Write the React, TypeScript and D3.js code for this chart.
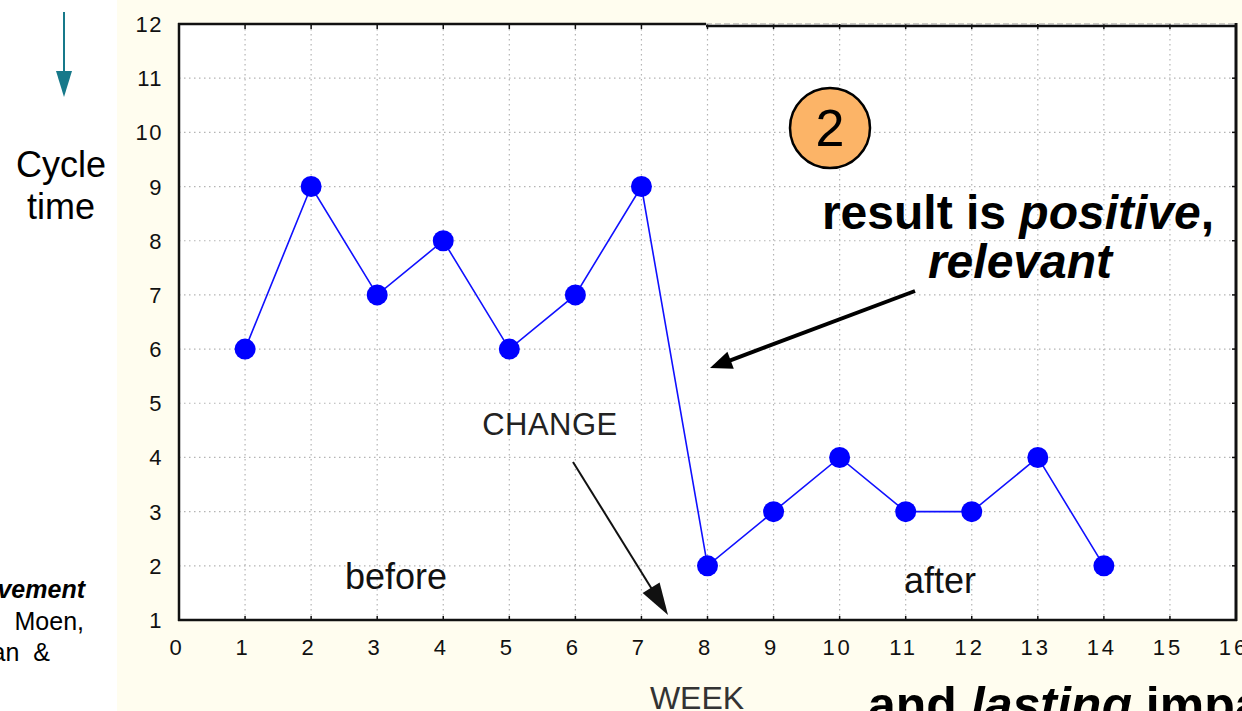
import React from "react";
import * as d3 from "d3";

const weeks = [1, 2, 3, 4, 5, 6, 7, 8, 9, 10, 11, 12, 13, 14];
const cycleTime = [6, 9, 7, 8, 6, 7, 9, 2, 3, 4, 3, 3, 4, 2];
const xTicks = d3.range(0, 17);
const yTicks = d3.range(1, 13);

const W = 1242;
const H = 711;
const FONT = "'Liberation Sans', Arial, sans-serif";

function arrowHead(x1: number, y1: number, x2: number, y2: number, len: number, half: number) {
  const a = Math.atan2(y2 - y1, x2 - x1);
  const bx = x2 - len * Math.cos(a);
  const by = y2 - len * Math.sin(a);
  const px = -Math.sin(a) * half;
  const py = Math.cos(a) * half;
  return {
    pts: `${x2},${y2} ${bx + px},${by + py} ${bx - px},${by - py}`,
    bx: x2 - len * 0.7 * Math.cos(a),
    by: y2 - len * 0.7 * Math.sin(a),
  };
}

export default function App() {
  const x = d3.scaleLinear().domain([0, 16]).range([179, 1236]);
  const y = d3.scaleLinear().domain([1, 12]).range([620, 24]);
  const line = d3
    .line<number>()
    .x((_, i) => x(weeks[i]))
    .y((d) => y(d));

  const a1 = arrowHead(915, 291, 710, 368, 22, 9);
  const a2 = arrowHead(573, 462, 668, 615, 32, 10);
  const tealHead = arrowHead(64, 12, 64, 97, 26, 8);

  return (
    <svg
      width={W}
      height={H}
      style={{ position: "absolute", left: 0, top: 0, background: "#ffffff" }}
      fontFamily={FONT}
    >
      <rect x={117} y={0} width={W - 117} height={H} fill="#fffdef" />
      <rect x={x(0)} y={y(12)} width={x(16) - x(0)} height={y(1) - y(12)} fill="#ffffff" />

      {/* grid */}
      {xTicks.slice(1, -1).map((t) => (
        <line
          key={"gx" + t}
          x1={x(t)}
          x2={x(t)}
          y1={y(12)}
          y2={y(1)}
          stroke="#b4b4b4"
          strokeWidth={1.2}
          strokeDasharray="1.5 3.5"
        />
      ))}
      {yTicks.slice(1, -1).map((t) => (
        <line
          key={"gy" + t}
          x1={x(0)}
          x2={x(16)}
          y1={y(t)}
          y2={y(t)}
          stroke="#b4b4b4"
          strokeWidth={1.2}
          strokeDasharray="1.5 3.5"
        />
      ))}

      {/* inner ticks */}
      {xTicks.slice(1, -1).map((t) => (
        <g key={"tx" + t}>
          <line x1={x(t)} x2={x(t)} y1={y(1)} y2={y(1) - 4} stroke="#111" strokeWidth={1.5} />
          <line x1={x(t)} x2={x(t)} y1={y(12)} y2={y(12) + 5} stroke="#111" strokeWidth={1.5} />
        </g>
      ))}
      {yTicks.slice(1, -1).map((t) => (
        <line key={"ty" + t} x1={x(16)} x2={x(16) - 4} y1={y(t)} y2={y(t)} stroke="#111" strokeWidth={1.5} />
      ))}

      {/* frame */}
      <line x1={x(0)} x2={x(0)} y1={y(12) - 1} y2={y(1) + 1} stroke="#111" strokeWidth={2.5} />
      <line x1={x(0) - 1} x2={x(16) + 1} y1={y(1)} y2={y(1)} stroke="#111" strokeWidth={2.5} />
      <line x1={x(16)} x2={x(16)} y1={y(12) - 1} y2={y(1) + 1} stroke="#111" strokeWidth={3} />
      <line x1={x(0) - 1} x2={706} y1={y(12)} y2={y(12)} stroke="#111" strokeWidth={2.5} />
      <line x1={706} x2={x(16)} y1={y(12) + 2} y2={y(12) + 2} stroke="#111" strokeWidth={2.5} />
      <line x1={706} x2={x(16)} y1={y(12)} y2={y(12)} stroke="#999" strokeWidth={1} strokeDasharray="6 3" />

      {/* tick labels */}
      {yTicks.map((t) => (
        <text
          key={"ly" + t}
          x={163}
          y={y(t) + 8}
          textAnchor="end"
          fontSize={22}
          fill="#111"
          letterSpacing={1.5}
        >
          {t}
        </text>
      ))}
      {xTicks.map((t) => (
        <text
          key={"lx" + t}
          x={x(t) - 2}
          y={655}
          textAnchor="middle"
          fontSize={22}
          fill="#111"
          letterSpacing={3}
        >
          {t}
        </text>
      ))}

      {/* data */}
      <path d={line(cycleTime) ?? ""} fill="none" stroke="#1010ff" strokeWidth={1.6} />
      {cycleTime.map((v, i) => (
        <circle key={"p" + i} cx={x(weeks[i])} cy={y(v)} r={10.5} fill="#0000ff" />
      ))}

      {/* annotations */}
      <text x={550} y={435} textAnchor="middle" fontSize={31} fill="#222" letterSpacing={0.5}>
        CHANGE
      </text>
      <line x1={573} y1={462} x2={a2.bx} y2={a2.by} stroke="#111" strokeWidth={2} />
      <polygon points={a2.pts} fill="#111" />

      <text x={396} y={589} textAnchor="middle" fontSize={36} fill="#111">
        before
      </text>
      <text x={940} y={593} textAnchor="middle" fontSize={36} fill="#111">
        after
      </text>

      <text x={1018} y={229} textAnchor="middle" fontSize={48} fontWeight="bold" fill="#000">
        result is <tspan fontStyle="italic">positive</tspan>,
      </text>
      <text x={1020} y={278} textAnchor="middle" fontSize={48} fontWeight="bold" fontStyle="italic" fill="#000">
        relevant
      </text>
      <line x1={915} y1={291} x2={a1.bx} y2={a1.by} stroke="#000" strokeWidth={4} />
      <polygon points={a1.pts} fill="#000" />

      <circle cx={830} cy={128} r={40} fill="#fcb467" stroke="#000" strokeWidth={2.5} />
      <text x={830} y={146} textAnchor="middle" fontSize={52} fill="#000">
        2
      </text>

      <text x={697} y={709} textAnchor="middle" fontSize={32} fill="#333">
        WEEK
      </text>
      <text x={868} y={722} fontSize={50} fontWeight="bold" fill="#000">
        and <tspan fontStyle="italic">lasting</tspan> impact
      </text>

      {/* left side */}
      <line x1={64} y1={12} x2={64} y2={tealHead.by} stroke="#17798a" strokeWidth={2} />
      <polygon points={tealHead.pts} fill="#17798a" />
      <text x={61} y={177} textAnchor="middle" fontSize={36} fill="#000">
        Cycle
      </text>
      <text x={61} y={219} textAnchor="middle" fontSize={36} fill="#000">
        time
      </text>

      <text x={85} y={598} textAnchor="end" fontSize={25} fontWeight="bold" fontStyle="italic" fill="#000">
        Improvement
      </text>
      <text x={84} y={630} textAnchor="end" fontSize={25} fill="#000">
        Moen,
      </text>
      <text x={50} y={661} textAnchor="end" fontSize={25} fill="#000" style={{ whiteSpace: "pre" }}>
        {"Nolan  &"}
      </text>
    </svg>
  );
}
